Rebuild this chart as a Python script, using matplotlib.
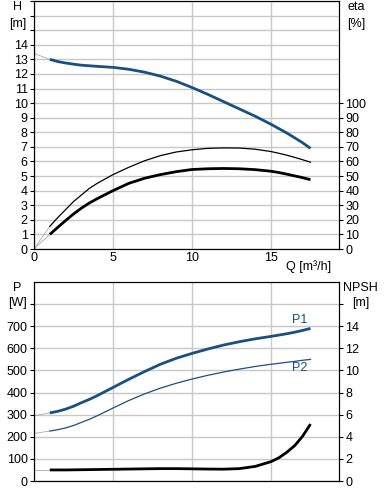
from matplotlib import pyplot as plt

plt.rcParams['font.family'] = ['Liberation Sans', 'DejaVu Sans']

blue = '#1b4f80'
grid_c = '#c8c8c8'
fs = 9

# flow rate Q [m3/h]
q = [1, 1.5, 2, 2.5, 3, 3.5, 4, 5, 6, 7, 8, 9, 10, 11, 12, 13, 14, 15, 15.5, 16, 16.5, 17, 17.5]
# head H [m]
head = [13.0, 12.85, 12.75, 12.67, 12.6, 12.56, 12.52, 12.45, 12.32, 12.12, 11.85, 11.5, 11.07,
        10.6, 10.1, 9.6, 9.1, 8.55, 8.25, 7.95, 7.62, 7.28, 6.9]
# efficiencies [%]
eta_pump = [15.5, 21.5, 27, 32.5, 37, 41.5, 45, 51, 56, 60.5, 64, 66.5, 68, 69, 69.3, 69.2,
            68.4, 66.8, 65.6, 64.3, 62.8, 61.2, 59.5]
eta_total = [10, 14.8, 19.5, 24, 28, 31.5, 34.5, 40, 45, 48.5, 51, 53, 54.5, 55, 55.2, 55,
             54.4, 53.3, 52.4, 51.3, 50.1, 48.9, 47.5]
# power [W]
p1 = [308, 315, 325, 338, 354, 369, 386, 423, 460, 495, 528, 555, 577, 597, 615, 630, 643,
      654, 660, 666, 673, 681, 690]
p2 = [226, 232, 240, 251, 265, 279, 295, 330, 364, 394, 420, 442, 461, 478, 493, 506, 518,
      528, 532, 537, 541, 546, 550]
# NPSH [m]
npsh = [1.0, 1.0, 1.0, 1.01, 1.02, 1.03, 1.04, 1.06, 1.08, 1.1, 1.12, 1.12, 1.1, 1.08, 1.07,
        1.12, 1.32, 1.75, 2.1, 2.6, 3.2, 4.05, 5.15]

# thin grey extensions towards Q=0
ext_q = [0, 1]
ext_head = [13.4, 13.0]
ext_eta_pump = [0, 15.5]
ext_eta_total = [0, 10]
ext_p1 = [295, 308]
ext_p2 = [215, 226]
ext_npsh = [1.0, 1.0]

fig = plt.figure(figsize=(3.88, 5.0), dpi=100)
ax1 = fig.add_axes([0.0876, 0.502, 0.786, 0.496])
ax2 = fig.add_axes([0.0876, 0.038, 0.786, 0.398])

for ax in (ax1, ax2):
    ax.set_xlim(0, 19.3)
    ax.set_xticks([0, 5, 10, 15])
    ax.grid(True, color=grid_c, lw=1)
    ax.set_axisbelow(True)
    for s in ax.spines.values():
        s.set_linewidth(0.8)
    ax.tick_params(labelsize=fs, length=3, width=0.8, pad=1.5)
    ax.tick_params(axis='x', length=0)

# top chart: head and efficiency
ax1.set_ylim(0, 17)
ax1.set_yticks(range(0, 18))
ax1.set_yticklabels([str(v) if v <= 14 else '' for v in range(0, 18)])
ax1.plot(ext_q, ext_head, color='#aaaaaa', lw=0.6)
ax1.plot(q, head, color=blue, lw=2.0, solid_capstyle='butt')

ax1r = ax1.twinx()
ax1r.set_ylim(0, 170)
ax1r.set_yticks(range(0, 101, 10))
ax1r.tick_params(labelsize=fs, length=3, width=0.8, pad=1.5)
ax1r.plot(ext_q, ext_eta_pump, color='#aaaaaa', lw=0.6)
ax1r.plot(ext_q, ext_eta_total, color='#aaaaaa', lw=0.6)
ax1r.plot(q, eta_pump, color='black', lw=0.9)
ax1r.plot(q, eta_total, color='black', lw=2.0, solid_capstyle='butt')

ax1.set_xticklabels(['0', '5', '10', '15'])
ax1.tick_params(axis='x', labelsize=fs, pad=2)
ax1.text(17.4, -0.75, 'Q [m³/h]', fontsize=fs, ha='center', va='top')

fig.text(0.045, 0.985, 'H', fontsize=fs, ha='center', va='center')
fig.text(0.045, 0.952, '[m]', fontsize=fs, ha='center', va='center')
fig.text(0.918, 0.985, 'eta', fontsize=fs, ha='center', va='center')
fig.text(0.918, 0.952, '[%]', fontsize=fs, ha='center', va='center')

# bottom chart: power and NPSH
ax2.set_ylim(0, 900)
ax2.set_yticks(range(0, 900, 100))
ax2.set_yticklabels([str(v) if v <= 700 else '' for v in range(0, 900, 100)])
ax2.set_xticklabels([])
ax2.plot(ext_q, ext_p1, color='#aaaaaa', lw=0.6)
ax2.plot(ext_q, ext_p2, color='#aaaaaa', lw=0.6)
ax2.plot(q, p1, color=blue, lw=2.0, solid_capstyle='butt')
ax2.plot(q, p2, color=blue, lw=0.9)
ax2.text(16.8, 727, 'P1', color=blue, fontsize=fs, ha='center', va='center')
ax2.text(16.8, 510, 'P2', color=blue, fontsize=fs, ha='center', va='center')

ax2r = ax2.twinx()
ax2r.set_ylim(0, 18)
ax2r.set_yticks(range(0, 17, 2))
ax2r.set_yticklabels([str(v) if v <= 14 else '' for v in range(0, 17, 2)])
ax2r.tick_params(labelsize=fs, length=3, width=0.8, pad=1.5)
ax2r.plot(ext_q, ext_npsh, color='#aaaaaa', lw=0.6)
ax2r.plot(q, npsh, color='black', lw=2.0, solid_capstyle='butt')

fig.text(0.045, 0.424, 'P', fontsize=fs, ha='center', va='center')
fig.text(0.045, 0.394, '[W]', fontsize=fs, ha='center', va='center')
fig.text(0.93, 0.424, 'NPSH', fontsize=fs, ha='center', va='center')
fig.text(0.93, 0.394, '[m]', fontsize=fs, ha='center', va='center')

plt.savefig('out.png', dpi=100)
